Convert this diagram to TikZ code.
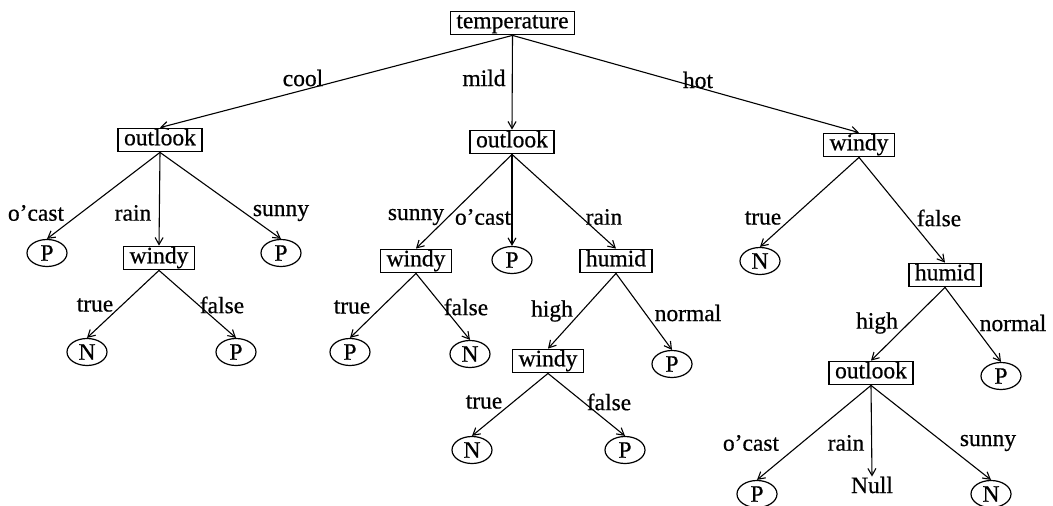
\documentclass[tikz,border=0pt]{standalone}
\usepackage{fontspec}
\setmainfont{Liberation Serif}[FakeBold=0.6]
\usetikzlibrary{arrows.meta,shapes.geometric}
\begin{document}
\begin{tikzpicture}[x=1pt,y=-1pt,
  every node/.style={font=\fontsize{23.5}{26}\selectfont},
  attr/.style={draw, line width=1.3pt, inner xsep=6pt, inner ysep=1pt, text height=16pt, text depth=5.5pt},
  leaf/.style={draw, ellipse, line width=1.2pt, minimum width=40pt, minimum height=27pt, inner sep=0pt},
  lbl/.style={inner sep=0pt},
  link/.style={line width=1.1pt, -{Straight Barb[length=7pt,width=8pt]}}
]
\useasboundingbox (0,0) rectangle (1053,506);

% attribute tests
\node[attr] (temp)   at (512.5,23) {temperature};
\node[attr] (out1)   at (160,140)  {outlook};
\node[attr] (out2)   at (512,142)  {outlook};
\node[attr] (windyR) at (859,145)  {windy};
\node[attr] (windyL) at (159,258)  {windy};
\node[attr] (windyM) at (416,261)  {windy};
\node[attr] (humidM) at (616,261)  {humid};
\node[attr] (windyB) at (548,361)  {windy};
\node[attr] (humidR) at (945,275)  {humid};
\node[attr] (outR)   at (871,373)  {outlook};

% leaves
\node[leaf] (pA) at (47,253)  {P};
\node[leaf] (pB) at (281,253) {P};
\node[leaf] (nA) at (87,352)  {N};
\node[leaf] (pC) at (236,352) {P};
\node[leaf] (pM) at (512,260) {P};
\node[leaf] (pD) at (350,352) {P};
\node[leaf] (nB) at (470,354) {N};
\node[leaf] (pE) at (672,364) {P};
\node[leaf] (nC) at (472,450) {N};
\node[leaf] (pF) at (625,450) {P};
\node[leaf] (nR) at (760,261) {N};
\node[leaf] (pR) at (1001,376) {P};
\node[leaf] (pG) at (757,494) {P};
\node[inner sep=0pt] (null) at (872,485) {Null};
\node[leaf] (nD) at (991,494) {N};

% branches
\draw[link] (temp.south) -- (out1.north);
\draw[link] (temp.south) -- (out2.north);
\draw[link] (temp.south) -- (windyR.north);

\draw[link] (out1.south) -- (pA.north);
\draw[link] (out1.south) -- (windyL.north);
\draw[link] (out1.south) -- (pB.north);
\draw[link] (windyL.south) -- (nA.north);
\draw[link] (windyL.south) -- (pC.north);

\draw[link] (out2.south) -- (windyM.north);
\draw[link] (out2.south) -- (pM.north);
\draw[link] (out2.south) -- (humidM.north);
\draw[link] (windyM.south) -- (pD.north);
\draw[link] (windyM.south) -- (nB.north);
\draw[link] (humidM.south) -- (windyB.north);
\draw[link] (humidM.south) -- (pE.north);
\draw[link] (windyB.south) -- (nC.north);
\draw[link] (windyB.south) -- (pF.north);

\draw[link] (windyR.south) -- (nR.north);
\draw[link] (windyR.south) -- (humidR.north);
\draw[link] (humidR.south) -- (outR.north);
\draw[link] (humidR.south) -- (pR.north);
\draw[link] (outR.south) -- (pG.north);
\draw[link] (outR.south) -- (null.north);
\draw[link] (outR.south) -- (nD.north);

% branch labels
\node[lbl] (lcool) at (303,78) {cool};
\node[lbl] (lmild) at (484,78) {mild};
\node[lbl] (lhot)  at (698,80) {hot};

\node[lbl] (l1a) at (36,213)  {o'cast};
\node[lbl] (l1b) at (133,213) {rain};
\node[lbl] (l1c) at (281,213) {sunny};
\node[lbl] (l1d) at (95,305)  {true};
\node[lbl] (l1e) at (222,305) {false};

\node[lbl] (l2a) at (416,217) {sunny};
\node[lbl] (l2b) at (483,217) {o'cast};
\node[lbl] (l2c) at (604,217) {rain};
\node[lbl] (l2d) at (352,307) {true};
\node[lbl] (l2e) at (466,307) {false};
\node[lbl] (l2f) at (552,311) {high};
\node[lbl] (l2g) at (688,313) {normal};
\node[lbl] (l2h) at (484,402) {true};
\node[lbl] (l2i) at (609,402) {false};

\node[lbl] (l3a) at (763,218) {true};
\node[lbl] (l3b) at (939,218) {false};
\node[lbl] (l3c) at (877,323) {high};
\node[lbl] (l3d) at (1013,323) {normal};
\node[lbl] (l3e) at (751,443) {o'cast};
\node[lbl] (l3f) at (846,443) {rain};
\node[lbl] (l3g) at (988,443) {sunny};
\end{tikzpicture}
\end{document}
